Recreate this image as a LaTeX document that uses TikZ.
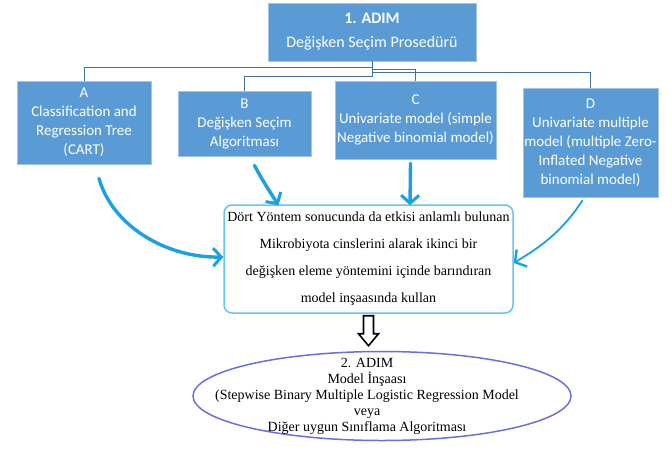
\documentclass[tikz,border=0pt]{standalone}
\usepackage{fontspec}
\setmainfont{Liberation Serif}
\newfontfamily\calfont{Carlito}
\usetikzlibrary{arrows.meta,shapes.geometric}
\definecolor{boxblue}{HTML}{5B9BD5}
\definecolor{boxedge}{HTML}{A3C4E8}
\definecolor{treeline}{HTML}{41719C}
\definecolor{penblue}{HTML}{1BA1E2}
\definecolor{midedge}{HTML}{66C4F2}
\definecolor{ovaledge}{HTML}{6E6EDB}
\begin{document}
\begin{tikzpicture}[x=1pt,y=-1pt]
        \tikzstyle{block} = [rectangle, fill=boxblue, draw=boxedge, line width=.8pt, text=white, align=center, inner sep=0pt, font=\calfont\fontsize{15}{19}\selectfont]
        \tikzstyle{tree} = [draw=treeline, line width=.9pt]
        \tikzstyle{pen} = [draw=penblue, line width=3.4pt, line cap=round, -{Straight Barb[length=8pt,width=18pt,line width=3pt]}]
        \tikzstyle{hollow} = [draw=black, line width=1.6pt, fill=white, line join=miter]
        \useasboundingbox (0,0) rectangle (672,448);
        \node[block, minimum width=208pt, minimum height=58pt, font=\calfont\fontsize{16}{24}\selectfont] (adim) at (372,32) {\textbf{1. ADIM}\\Değişken Seçim Prosedürü};
        \node[block, minimum width=134pt, minimum height=83pt] (boxa) at (84,122.5) {A\\Classification and\\Regression Tree\\(CART)};
        \node[block, minimum width=133pt, minimum height=65pt] (boxb) at (244.5,123.5) {B\\Değişken Seçim\\Algoritması};
        \node[block, minimum width=161pt, minimum height=78pt] (boxc) at (415.5,120) {C\\Univariate model (simple\\Negative binomial model)};
        \node[block, minimum width=135pt, minimum height=109pt] (boxd) at (590.5,142.5) {D\\Univariate multiple\\model (multiple Zero-\\Inflated Negative\\binomial model)};
        \node[rectangle, rounded corners=8pt, draw=midedge, line width=1.5pt, fill=white, minimum width=289pt, minimum height=108pt, align=center, font=\fontsize{14}{27}\selectfont] (mid) at (368.5,259) {Dört Yöntem sonucunda da etkisi anlamlı bulunan\\Mikrobiyota cinslerini alarak ikinci bir\\değişken eleme yöntemini içinde barındıran\\model inşaasında kullan};
        \node[ellipse, draw=ovaledge, line width=1.5pt, minimum width=378pt, minimum height=89pt, inner sep=0pt] (adimb) at (382,396) {};
        \node[align=center, inner sep=0pt, font=\fontsize{14}{16}\selectfont] (adimtext) at (367,396) {2. ADIM\\Model İnşaası\\(Stepwise Binary Multiple Logistic Regression Model\\veya\\Diğer uygun Sınıflama Algoritması};
        % tree lines
        \draw[tree] (adim.south) -- ++(0,6) -| (boxa.north);
        \draw[tree] (adim.south) -- ++(0,8) -| (boxc.north);
        \draw[tree] (adim.south) -- ++(0,11) -| (boxd.north);
        \draw[tree] (adim.south) -- ++(0,15) -| (boxb.north);
        % pen arrows
        \draw[pen] ([xshift=15pt,yshift=-14pt]boxa.south) .. controls (112,225) and (165,258) .. ([yshift=2pt]mid.west);
        \draw[pen] ([xshift=10pt,yshift=-9pt]boxb.south) .. controls (262,180) and (272,195) .. ([xshift=-90pt,yshift=-1pt]mid.north);
        \draw[pen] ([xshift=-5pt,yshift=-4pt]boxc.south) -- ([xshift=41.5pt,yshift=-1pt]mid.north);
        \draw[pen, line width=1.8pt, -{Straight Barb[length=8pt,width=20pt,line width=2.4pt]}] ([xshift=-8pt,yshift=-3pt]boxd.south) .. controls (560,235) and (535,250) .. ([yshift=-4pt]mid.east);
        % hollow arrow
        \draw[hollow] ([xshift=-5pt,yshift=-2pt]mid.south) -- ++(10,0) -- ++(0,18) -- ++(5,0) -- ++(-10,12) -- ++(-10,-12) -- ++(5,0) -- cycle;
\end{tikzpicture}
\end{document}
